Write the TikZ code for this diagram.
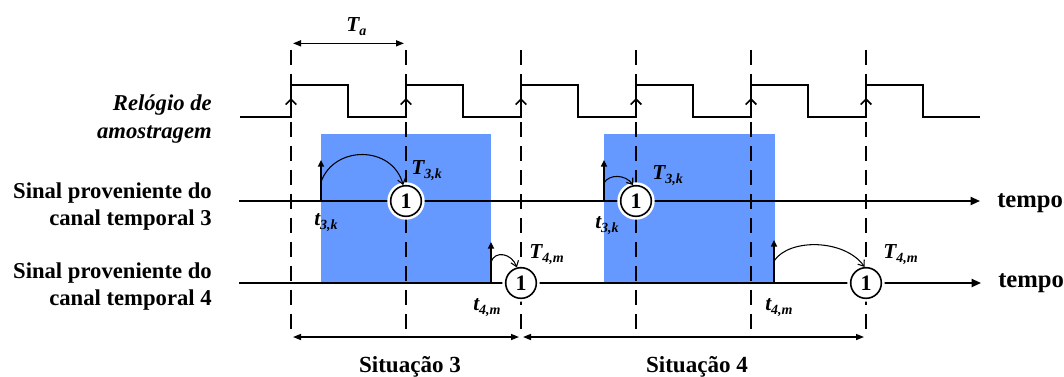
\documentclass[tikz,border=0pt]{standalone}
\usepackage{fontspec}
\setmainfont{Liberation Serif}
\usetikzlibrary{arrows.meta}

\definecolor{window}{RGB}{102,153,255}

\newcommand{\tlab}[2]{#1\raisebox{-0.45ex}{\fontsize{10.5}{11}\selectfont #2}}

\tikzset{
  guide/.style={line width=1.4pt, dash pattern=on 11pt off 7pt},
  clock/.style={line width=1.3pt},
  tick/.style={line width=1.3pt, -{Straight Barb[length=4pt,width=8pt]}},
  timeline/.style={line width=1.4pt, -{Triangle[length=7pt,width=6pt]}},
  spike/.style={line width=1.2pt, -{Triangle[length=5pt,width=4.5pt]}},
  hop/.style={line width=0.8pt, -{Straight Barb[length=4pt,width=6pt]}},
  measure/.style={line width=1.1pt, {Triangle[length=6pt,width=4.5pt]}-{Triangle[length=6pt,width=4.5pt]}, shorten <=1.5pt, shorten >=1.5pt},
  sample/.style={circle, draw, fill=white, line width=1.2pt, minimum size=23pt, inner sep=0pt, preaction={draw=white, line width=5pt}, font=\fontsize{16.5}{18}\selectfont\bfseries},
  rowlabel/.style={font=\fontsize{17}{20.5}\selectfont\bfseries, align=right, anchor=east, inner sep=0pt},
  tag/.style={font=\fontsize{16}{17}\selectfont\bfseries\itshape, anchor=base west, inner sep=0pt},
  caption/.style={font=\fontsize{17.3}{18}\selectfont\bfseries, inner sep=0pt},
}

\begin{document}
\begin{tikzpicture}[x=0.75pt, y=-0.75pt]

\useasboundingbox (0,0) rectangle (1064,376);

\fill[window] (321,134) rectangle (491,283);
\fill[window] (604,134) rectangle (775,283);

\foreach \k in {0,...,5} {
  \coordinate (up\k) at ({291+115*\k},50);
  \coordinate (dn\k) at ({291+115*\k},336);
  \draw[guide] (up\k) -- (dn\k);
}

\draw[clock] (240,117) \foreach \k in {0,...,5} { -- ({291+115*\k},117) -- ({291+115*\k},85) -- ({348+115*\k},85) -- ({348+115*\k},117) } -- (980,117);
\foreach \k in {0,...,5}
  \draw[tick] ({291+115*\k},117) -- ({291+115*\k},98);

\draw[measure] ([yshift=5pt]up0) -- ([yshift=5pt]up1);
\node[tag] (ta) at (346,31) {\tlab{T}{a}};

\node[rowlabel, font=\fontsize{17}{20.5}\selectfont\bfseries\itshape] (clk) at (212,119) {Relógio de\\amostragem};
\node[rowlabel] (ch3) at (212,206.5) {Sinal proveniente do\\canal temporal 3};
\node[rowlabel] (ch4) at (212,286.5) {Sinal proveniente do\\canal temporal 4};

\coordinate (s3) at (239,201);
\coordinate (e3) at (980,201);
\coordinate (s4) at (239,283);
\coordinate (e4) at (981,283);
\draw[timeline] (s3) -- (e3);
\draw[timeline] (s4) -- (e4);
\node[caption, anchor=base west, font=\fontsize{18.5}{19}\selectfont\bfseries] (tempo3) at (997,207) {tempo};
\node[caption, anchor=base west, font=\fontsize{18.5}{19}\selectfont\bfseries] (tempo4) at (998,287) {tempo};

\node[sample] (c3a) at (406,201) {1};
\node[sample] (c3b) at (636,201) {1};
\node[sample] (c4a) at (521,283) {1};
\node[sample] (c4b) at (866,283) {1};

\foreach \x/\y/\z/\w [count=\i] in {321/201/160/182, 604/201/160/183, 491/283/242/262, 774/283/240/261} {
  \coordinate (base\i) at (\x,\y);
  \coordinate (peak\i) at (\x,\z);
  \coordinate (hop\i) at (\x,\w);
  \draw[spike] (base\i) -- (peak\i);
}

\draw[hop] (hop1) .. controls +(13,-37) and +(-11,-40) .. (c3a.100);
\draw[hop] (hop2) .. controls +(5,-9) and +(-8,-11) .. (c3b.100);
\draw[hop] (hop3) .. controls +(4,-12) and +(-5,-14) .. (c4a.105);
\draw[hop] (hop4) .. controls +(15,-23) and +(-20,-28) .. (c4b.95);

\node[tag] (T3a) at (411,174.5) {\tlab{T}{3,k}};
\node[tag] (t3a) at (314,225) {\tlab{t}{3,k}};
\node[tag] (T3b) at (652,179) {\tlab{T}{3,k}};
\node[tag] (t3b) at (595,228) {\tlab{t}{3,k}};
\node[tag] (T4a) at (529,258) {\tlab{T}{4,m}};
\node[tag] (t4a) at (473,310) {\tlab{t}{4,m}};
\node[tag] (T4b) at (883,258) {\tlab{T}{4,m}};
\node[tag] (t4b) at (765,310) {\tlab{t}{4,m}};

\draw[measure] ([yshift=-0.75pt]dn0) -- ([yshift=-0.75pt]dn2);
\draw[measure] ([yshift=-0.75pt]dn2) -- ([yshift=-0.75pt]dn5);
\node[caption, anchor=base] (sit3) at (410,372) {Situação 3};
\node[caption, anchor=base] (sit4) at (697,372) {Situação 4};

\end{tikzpicture}
\end{document}
